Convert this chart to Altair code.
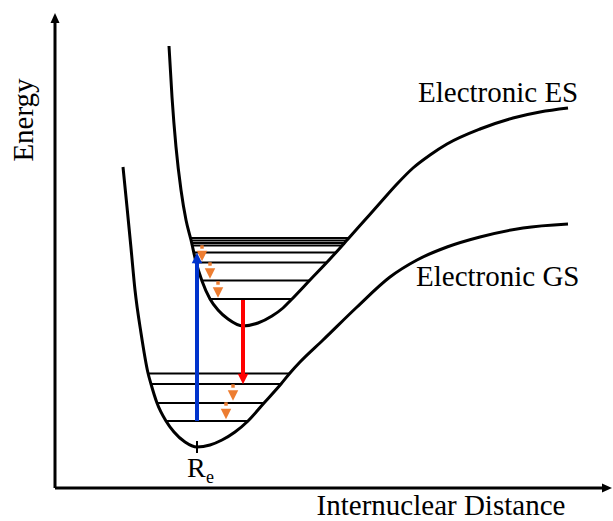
import altair as alt
import pandas as pd

# ---- diagram data (x: internuclear distance units, y: energy units measured downward) ----
es_curve_x = [169, 172, 176, 181, 186, 191, 196, 202, 210, 218, 228, 243, 258, 272, 283, 291, 310, 330, 348, 364, 380, 397, 413, 430, 447, 480, 513, 540, 568]
es_curve_y = [46, 97, 147, 190, 220, 240, 262, 281, 299, 310, 319, 326, 323, 316, 308, 300, 280, 259, 239, 221, 203, 184, 168, 155, 144, 129, 118, 112, 108]

gs_curve_x = [123, 127, 131, 135, 141, 148, 151, 157, 166, 174, 185, 197, 210, 222, 235, 248, 264, 281, 290, 300, 323, 357, 390, 417, 447, 480, 523, 568]
gs_curve_y = [167, 207, 248, 290, 333, 373, 384, 403, 421, 432, 442, 447, 445, 440, 432, 421, 403, 384, 373, 362, 340, 307, 277, 260, 247, 237, 228, 224]

es_level_y = [238, 240.5, 243, 245.5, 252.5, 262.5, 280.5, 299]
es_level_x0 = [191, 191, 192, 193, 194, 197, 202, 210]
es_level_x1 = [348, 346, 344, 342, 336, 327, 309, 291]

gs_level_y = [373.5, 384, 403, 421]
gs_level_x0 = [148, 151, 157, 166]
gs_level_x1 = [290, 281, 264, 248]

# absorption (blue) and emission (red) transitions
abs_x, abs_y0, abs_y1 = [197], [421], [262]
abs_head_x, abs_head_y = [197], [258]
emi_x, emi_y0, emi_y1 = [243], [300], [375]
emi_head_x, emi_head_y = [243], [379]

# vibrational relaxation (orange dashed arrows)
relax_dash_x = [202, 210, 218, 233, 226]
relax_dash_y = [247, 264, 283, 386, 404]
relax_head_x = [202, 210, 218, 233, 226]
relax_head_y = [256, 273.5, 292.5, 395.5, 414]

# axes
yaxis_x, yaxis_y0, yaxis_y1 = [55], [488], [20]
xaxis_y, xaxis_x0, xaxis_x1 = [488], [55], [605]
yhead_x, yhead_y = [55], [18]
xhead_x, xhead_y = [607], [488]

re_tick_x, re_tick_y0, re_tick_y1 = [197], [441], [453]

FONT = "Liberation Serif"
ORANGE = "#ED7D31"
BLUE = "#0033CC"
RED = "#FF0000"

xs = alt.Scale(domain=[0, 613], nice=False, zero=False)
ys = alt.Scale(domain=[0, 521], nice=False, zero=False, reverse=True)


def X(f):
    return alt.X(f, type="quantitative", scale=xs, axis=None)


def Y(f):
    return alt.Y(f, type="quantitative", scale=ys, axis=None)


def df(**kw):
    return pd.DataFrame(kw)


layers = []

# potential curves
for cx, cy in [(es_curve_x, es_curve_y), (gs_curve_x, gs_curve_y)]:
    layers.append(
        alt.Chart(df(x=cx, y=cy)).mark_line(color="black", strokeWidth=3, interpolate="monotone")
        .encode(x=X("x"), y=Y("y"))
    )

# vibrational levels
for lx0, lx1, ly in [(es_level_x0, es_level_x1, es_level_y), (gs_level_x0, gs_level_x1, gs_level_y)]:
    layers.append(
        alt.Chart(df(x=lx0, x2=lx1, y=ly)).mark_rule(color="black", strokeWidth=2)
        .encode(x=X("x"), x2="x2:Q", y=Y("y"))
    )

# axes lines
layers.append(alt.Chart(df(x=yaxis_x, y=yaxis_y0, y2=yaxis_y1)).mark_rule(color="black", strokeWidth=3)
              .encode(x=X("x"), y=Y("y"), y2="y2:Q"))
layers.append(alt.Chart(df(x=xaxis_x0, x2=xaxis_x1, y=xaxis_y)).mark_rule(color="black", strokeWidth=3)
              .encode(x=X("x"), x2="x2:Q", y=Y("y")))
layers.append(alt.Chart(df(x=yhead_x, y=yhead_y)).mark_point(
    shape="M0,-1L0.9,1L-0.9,1Z", size=100, filled=True, opacity=1, color="black", strokeWidth=0)
    .encode(x=X("x"), y=Y("y")))
layers.append(alt.Chart(df(x=xhead_x, y=xhead_y)).mark_point(
    shape="M1,0L-1,-0.9L-1,0.9Z", size=100, filled=True, opacity=1, color="black", strokeWidth=0)
    .encode(x=X("x"), y=Y("y")))

# Re tick
layers.append(alt.Chart(df(x=re_tick_x, y=re_tick_y0, y2=re_tick_y1)).mark_rule(color="black", strokeWidth=2)
              .encode(x=X("x"), y=Y("y"), y2="y2:Q"))

# relaxation arrows
layers.append(alt.Chart(df(x=relax_dash_x, y=relax_dash_y)).mark_square(
    size=12, color=ORANGE, opacity=1).encode(x=X("x"), y=Y("y")))
layers.append(alt.Chart(df(x=relax_head_x, y=relax_head_y)).mark_point(
    shape="M0,1L1,-1L-1,-1Z", size=110, filled=True, opacity=1, color=ORANGE, strokeWidth=0)
    .encode(x=X("x"), y=Y("y")))

# absorption arrow
layers.append(alt.Chart(df(x=abs_x, y=abs_y0, y2=abs_y1)).mark_rule(color=BLUE, strokeWidth=4)
              .encode(x=X("x"), y=Y("y"), y2="y2:Q"))
layers.append(alt.Chart(df(x=abs_head_x, y=abs_head_y)).mark_point(
    shape="M0,-1L1,1L-1,1Z", size=110, filled=True, opacity=1, color=BLUE, strokeWidth=0)
    .encode(x=X("x"), y=Y("y")))

# emission arrow
layers.append(alt.Chart(df(x=emi_x, y=emi_y0, y2=emi_y1)).mark_rule(color=RED, strokeWidth=4)
              .encode(x=X("x"), y=Y("y"), y2="y2:Q"))
layers.append(alt.Chart(df(x=emi_head_x, y=emi_head_y)).mark_point(
    shape="M0,1L1,-1L-1,-1Z", size=110, filled=True, opacity=1, color=RED, strokeWidth=0)
    .encode(x=X("x"), y=Y("y")))

# texts
label_text = ["Electronic ES", "Electronic GS"]
label_x = [418, 416]
label_y = [102, 286]
layers.append(alt.Chart(df(x=label_x, y=label_y, t=label_text)).mark_text(
    font=FONT, fontSize=29, align="left", baseline="alphabetic", color="black")
    .encode(x=X("x"), y=Y("y"), text="t:N"))

layers.append(alt.Chart(df(x=[441], y=[515], t=["Internuclear Distance"])).mark_text(
    font=FONT, fontSize=29, align="center", baseline="alphabetic", color="black")
    .encode(x=X("x"), y=Y("y"), text="t:N"))

layers.append(alt.Chart(df(x=[33], y=[120], t=["Energy"])).mark_text(
    font=FONT, fontSize=29, align="center", baseline="alphabetic", angle=270, color="black")
    .encode(x=X("x"), y=Y("y"), text="t:N"))

layers.append(alt.Chart(df(x=[187], y=[477], t=["R"])).mark_text(
    font=FONT, fontSize=28, align="left", baseline="alphabetic", color="black")
    .encode(x=X("x"), y=Y("y"), text="t:N"))
layers.append(alt.Chart(df(x=[206], y=[483], t=["e"])).mark_text(
    font=FONT, fontSize=18, align="left", baseline="alphabetic", color="black")
    .encode(x=X("x"), y=Y("y"), text="t:N"))

chart = alt.layer(*layers).properties(
    width=613, height=521, padding=0, autosize=alt.AutoSizeParams(type="none")
).configure_view(stroke=None)

chart.save("out.html", embed_options={"renderer": "svg", "actions": False})
